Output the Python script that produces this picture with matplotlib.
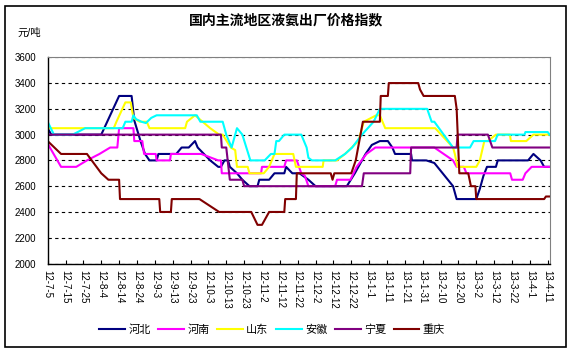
import matplotlib
matplotlib.use("Agg")
import matplotlib.pyplot as plt
from matplotlib.patches import Rectangle

plt.rcParams['font.family'] = ['Liberation Sans', 'Noto Sans CJK SC', 'DejaVu Sans']

# x values are days since 2012-07-05 at each change of the line
tick_labels = ['12-7-5', '12-7-15', '12-7-25', '12-8-4', '12-8-14', '12-8-24', '12-9-3',
               '12-9-13', '12-9-23', '12-10-3', '12-10-13', '12-10-23', '12-11-2',
               '12-11-12', '12-11-22', '12-12-2', '12-12-12', '12-12-22', '13-1-1',
               '13-1-11', '13-1-21', '13-1-31', '13-2-10', '13-2-20', '13-3-2',
               '13-3-12', '13-3-22', '13-4-1', '13-4-11']
tick_days = [10 * i for i in range(len(tick_labels))]

hebei_days = [0, 2, 30, 40, 47, 48.5, 52, 54.5, 57, 61, 62, 72, 75, 79, 82.5, 84, 91, 95.5,
              97, 99, 101, 102, 106, 109, 113, 117.5, 118.5, 124, 127, 132.5, 133.5, 137,
              141, 146, 150, 167.5, 172, 178, 181.5, 186, 190.5, 193, 194.5, 203.5, 204,
              212, 216.5, 227, 229, 240, 242, 244, 246, 251, 252, 269, 272, 276, 278, 281]
hebei_vals = [3050, 3000, 3000, 3300, 3300, 3110, 2950, 2850, 2800, 2800, 2850, 2850, 2900,
              2900, 2950, 2900, 2800, 2750, 2750, 2800, 2800, 2750, 2700, 2650, 2600, 2600,
              2650, 2650, 2700, 2700, 2750, 2700, 2700, 2650, 2600, 2600, 2700, 2850, 2920,
              2950, 2950, 2900, 2850, 2850, 2800, 2800, 2780, 2600, 2500, 2500, 2580, 2680,
              2750, 2750, 2800, 2800, 2850, 2800, 2750, 2750]

henan_days = [0, 7.5, 16, 22, 29, 35, 39, 40, 48, 48.5, 53, 54, 60.5, 61, 68.5, 69, 86,
              95.5, 97, 97.5, 119.5, 120, 132.5, 133.5, 139.5, 142, 144, 146, 161, 162,
              169.5, 173, 178.5, 183.5, 216.5, 227, 229, 233, 234.5, 259, 260, 266, 267.5,
              271, 281]
henan_vals = [2930, 2750, 2750, 2800, 2850, 2900, 2900, 3050, 3050, 2950, 2950, 2850, 2850,
              2800, 2800, 2850, 2850, 2800, 2800, 2700, 2700, 2750, 2750, 2800, 2800, 2700,
              2680, 2600, 2600, 2650, 2650, 2750, 2850, 2900, 2900, 2800, 2750, 2750, 2700,
              2700, 2650, 2650, 2700, 2750, 2750]

shandong_days = [0, 37, 38.5, 43.5, 46.5, 48, 51.5, 55.5, 57, 77, 78, 82.5, 91, 96, 98,
                 102.5, 105, 106, 112, 113, 121, 124, 127, 137.5, 139, 154, 154.5, 162,
                 166.5, 174, 177, 184, 186, 189, 217, 227, 228, 229.5, 240, 242, 244.5,
                 246.5, 251, 258.8, 259.4, 268, 272, 281]
shandong_vals = [3050, 3050, 3100, 3250, 3250, 3130, 3100, 3100, 3050, 3050, 3100, 3150,
                 3050, 3000, 3000, 2900, 2880, 2750, 2750, 2700, 2700, 2750, 2850, 2850,
                 2750, 2750, 2800, 2800, 2850, 2950, 3100, 3150, 3150, 3050, 3050, 2900,
                 2850, 2750, 2750, 2800, 2950, 2950, 3000, 3000, 2950, 2950, 3000, 3000]

anhui_days = [0, 3.5, 14, 21, 42, 43.5, 47, 48, 49.5, 52.5, 55, 58, 61, 83.5, 85.5, 98, 100,
              103, 106, 109, 113.5, 121.5, 125, 127, 128, 129.5, 132.5, 142, 145, 146, 148,
              161, 166.5, 170.5, 176, 182.5, 186, 212.5, 215, 216.5, 227, 236.5, 238.5,
              250.5, 252, 267, 267.5, 280, 281]
anhui_vals = [3100, 3000, 3000, 3050, 3050, 3100, 3100, 3150, 3120, 3100, 3090, 3130, 3150,
              3150, 3100, 3100, 3000, 2900, 3050, 3000, 2800, 2800, 2850, 2850, 2950, 2950,
              3000, 3000, 2900, 2820, 2800, 2800, 2850, 2900, 3000, 3100, 3200, 3200, 3100,
              3100, 2900, 2900, 2950, 2950, 3000, 3000, 3020, 3020, 3000]

ningxia_days = [0, 97, 97.5, 100, 102, 109, 110, 176, 177, 203, 203.5, 229, 229.5, 246.5,
                249, 281]
ningxia_vals = [3000, 3000, 2900, 2900, 2650, 2650, 2600, 2600, 2700, 2700, 2900, 2900,
                3000, 3000, 2900, 2900]

chongqing_days = [0, 7.5, 22, 30, 34, 40, 40.5, 62.5, 63, 69, 69.5, 85, 96, 114, 117.5, 120,
                  124, 132.5, 133, 139, 139.5, 158.5, 159.5, 160.5, 170, 172.5, 176.5, 186,
                  186.5, 190.5, 191, 207.5, 208.5, 210.5, 228, 229, 230.5, 235.5, 237,
                  239.5, 240, 278, 279, 281]
chongqing_vals = [2950, 2850, 2850, 2700, 2650, 2650, 2500, 2500, 2400, 2400, 2500, 2500,
                  2400, 2400, 2300, 2300, 2400, 2400, 2500, 2500, 2700, 2700, 2650, 2700,
                  2700, 2800, 3100, 3100, 3300, 3300, 3400, 3400, 3350, 3300, 3300, 3200,
                  2700, 2700, 2600, 2600, 2500, 2500, 2520, 2520]

series = [
    ('河北', hebei_days, hebei_vals, '#000080'),
    ('河南', henan_days, henan_vals, '#FF00FF'),
    ('山东', shandong_days, shandong_vals, '#FFFF00'),
    ('安徽', anhui_days, anhui_vals, '#00FFFF'),
    ('宁夏', ningxia_days, ningxia_vals, '#800080'),
    ('重庆', chongqing_days, chongqing_vals, '#800000'),
]

fig = plt.figure(figsize=(5.73, 3.53), dpi=100)
ax = fig.add_axes([0.0832, 0.2535, 0.8758, 0.5842])

for name, d, v, c in series:
    ax.plot(d, v, color=c, lw=1.5, label=name)

ax.set_xlim(0, 281)
ax.set_ylim(2000, 3600)
ax.set_yticks(range(2000, 3601, 200))
ax.set_xticks(tick_days)
ax.set_xticklabels(tick_labels, rotation=-90, fontsize=7)
ax.tick_params(axis='x', direction='in', length=3, pad=5, width=0.8)
ax.tick_params(axis='y', length=0, pad=8, labelsize=7)
for t in ax.get_xticklabels():
    t.set_verticalalignment('top')
    t.set_horizontalalignment('center')

ax.grid(axis='y', color='black', lw=0.8, linestyle=(0, (3, 3)))
ax.set_axisbelow(True)
ax.spines['top'].set_color('#808080')
ax.spines['right'].set_color('#808080')
ax.spines['left'].set_linewidth(1.0)
ax.spines['bottom'].set_linewidth(1.0)

fig.text(0.5, 0.943, '国内主流地区液氨出厂价格指数', ha='center', va='center',
         fontsize=10, fontweight='bold')
fig.text(0.052, 0.907, '元/吨', ha='center', va='center', fontsize=7.5)

fig.legend(loc='center', bbox_to_anchor=(0.475, 0.065), ncol=6, frameon=False,
           fontsize=8, handlelength=2.3, handletextpad=0.3, columnspacing=0.7)

fig.patches.append(Rectangle((5 / 573, 6 / 353), 561 / 573, 341 / 353,
                             transform=fig.transFigure, fill=False, ec='black', lw=1.2))

fig.savefig('out.png', dpi=100)
